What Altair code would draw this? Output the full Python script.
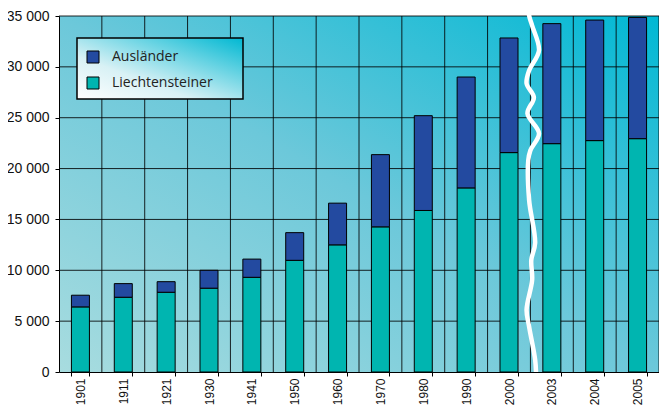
import altair as alt
import pandas as pd

years = ["1901", "1911", "1921", "1930", "1941", "1950", "1960",
         "1970", "1980", "1990", "2000", "2003", "2004", "2005"]
liechtensteiner = [6400, 7350, 7840, 8240, 9310, 10980, 12500,
                   14270, 15880, 18100, 21570, 22450, 22750, 22940]
auslaender = [1150, 1340, 1040, 1760, 1790, 2720, 4100,
              7100, 9320, 10900, 11270, 11800, 11850, 11920]
series = ["Ausländer", "Liechtensteiner"]
colors = ["#234aa0", "#00b5b0"]
y_ticks = [0, 5000, 10000, 15000, 20000, 25000, 30000, 35000]

# break marker (wavy line between 2000 and 2003), in category units / data units
wave_x = [-0.15, -0.13, -0.06, 0.10, -0.13, -0.19, -0.02, -0.17, 0.10, -0.10,
          -0.15, -0.13, 0.01, -0.08, -0.06, -0.19, -0.13, 0.01, 0.03]
wave_y = [36500, 35030, 34050, 31600, 29640, 28360, 26990, 25420, 23460, 21790,
          20810, 16890, 12680, 11010, 9050, 6110, 4440, 1210, 30]

rows = []
for i, y in enumerate(years):
    rows.append({"year": y, "series": "Liechtensteiner", "value": liechtensteiner[i], "ord": 0})
    rows.append({"year": y, "series": "Ausländer", "value": auslaender[i], "ord": 1})
df = pd.DataFrame(rows)

wave_df = pd.DataFrame({"x": [11.1 + d for d in wave_x], "y": wave_y, "i": list(range(len(wave_y)))})
one = pd.DataFrame({"a": [0]})

W, H = 600, 356
QX = alt.Scale(domain=[0, len(years)])

bg = alt.Chart(one).mark_rect(
    color=alt.LinearGradient(
        gradient="linear", x1=0, y1=1, x2=1, y2=0,
        stops=[alt.GradientStop(color="#a8dcdf", offset=0),
               alt.GradientStop(color="#6cc8da", offset=0.5),
               alt.GradientStop(color="#00b8d4", offset=1)]),
).encode(x=alt.value(0), x2=alt.value(W), y=alt.value(0), y2=alt.value(H))

hgrid = alt.Chart(pd.DataFrame({"v": y_ticks[1:]})).mark_rule(
    color="black", strokeWidth=1, opacity=0.85).encode(y=alt.Y("v:Q"))

vgrid = alt.Chart(pd.DataFrame({"k": list(range(1, len(years) + 1))})).mark_rule(
    color="black", strokeWidth=1, opacity=0.85).encode(
    x=alt.X("k:Q", scale=QX, axis=None))

bars = alt.Chart(df).mark_bar(stroke="black", strokeWidth=1).encode(
    x=alt.X("year:N", sort=years, title=None,
            scale=alt.Scale(paddingInner=0.58, paddingOuter=0.29),
            axis=alt.Axis(labelAngle=270, tickBand="extent", labelPadding=2, grid=False,
                          tickSize=4, labelAlign="right", labelBaseline="middle",
                          labelFontSize=12, zindex=1)),
    y=alt.Y("value:Q", stack="zero", title=None,
            scale=alt.Scale(domain=[0, 35000], nice=False),
            axis=alt.Axis(values=y_ticks, tickSize=4, labelPadding=6, grid=False, zindex=1,
                          labelFontSize=14,
                          labelExpr="replace(format(datum.value, ',d'), ',', ' ')")),
    color=alt.Color("series:N", scale=alt.Scale(domain=series, range=colors),
                    legend=alt.Legend(title=None, orient="none", legendX=27, legendY=34,
                                      symbolType="square", symbolSize=144,
                                      symbolStrokeColor="black", symbolStrokeWidth=1,
                                      symbolOpacity=1, labelOffset=12, rowPadding=10,
                                      labelFont="Open Sans", labelFontSize=14,
                                      labelColor="#222222", padding=0)),
    order=alt.Order("ord:Q"),
)

legend_box = alt.Chart(one).mark_rect(
    stroke="black", strokeWidth=1.5,
    color=alt.LinearGradient(
        gradient="linear", x1=0, y1=1, x2=1, y2=0,
        stops=[alt.GradientStop(color="#ffffff", offset=0),
               alt.GradientStop(color="#d8f1f5", offset=0.35),
               alt.GradientStop(color="#00b8d2", offset=1)]),
).encode(x=alt.value(18), x2=alt.value(184), y=alt.value(22), y2=alt.value(83))

wave = alt.Chart(wave_df).mark_line(color="white", strokeWidth=4.5, clip=False,
                                     interpolate="catmull-rom", strokeCap="round",
                                     strokeJoin="round").encode(
    x=alt.X("x:Q", scale=QX, axis=None),
    y=alt.Y("y:Q"),
    order=alt.Order("i:Q"),
)

chart = alt.layer(bg, hgrid, vgrid, bars, legend_box, wave).resolve_scale(
    x="independent").properties(
    width=W, height=H, autosize="none",
    padding={"left": 51, "top": 8, "right": 0, "bottom": 33},
    background="white",
).configure_view(
    stroke=None,
).configure_axis(
    domainColor="black", tickColor="black", domainWidth=1,
    labelFont="Liberation Sans", labelColor="#111111",
)

chart.save("out.html", embed_options={"renderer": "svg", "actions": False})
